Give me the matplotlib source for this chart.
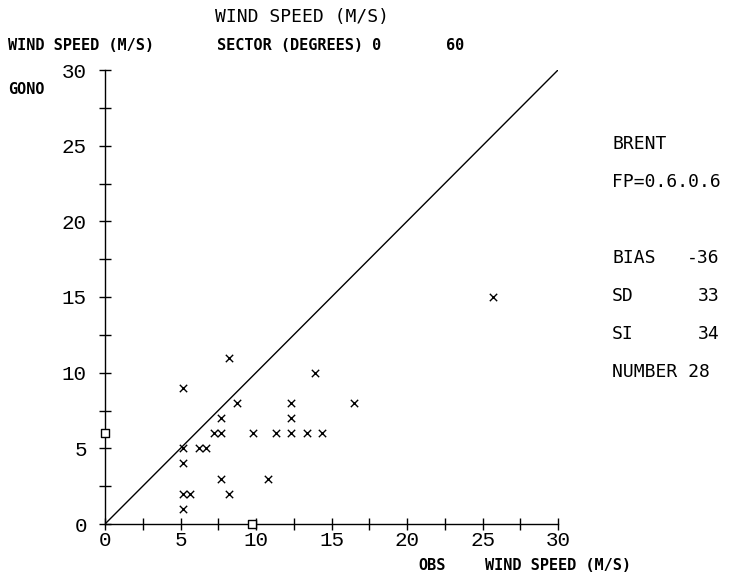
import matplotlib.pyplot as plt
import numpy as np

# observed vs model wind speed, sector 0-60 deg
obs = [5.14, 8.75, 12.35, 13.9, 16.5, 7.7, 12.35, 7.2, 7.7, 9.8, 11.3, 12.35, 13.4,
       14.4, 5.14, 6.2, 6.7, 5.14, 7.7, 10.8, 5.14, 5.66, 8.23, 5.14, 25.7, 8.23]
gono = [9, 8, 8, 10, 8, 7, 7, 6, 6, 6, 6, 6, 6,
        6, 5, 5, 5, 4, 3, 3, 2, 2, 2, 1, 15, 11]
stats = [("BIAS", "-36"), ("SD", "33"), ("SI", "34")]
number = "NUMBER 28"

W, H = 742, 581
mono = "DejaVu Sans Mono"
thin = "Liberation Mono"

def fx(x):
    return x / W

def fy(y):
    return 1 - y / H

fig = plt.figure(figsize=(W / 100, H / 100), dpi=100)
ax = fig.add_axes([fx(105), fy(524), 453 / W, 454 / H])

ax.plot([0, 30], [0, 30], color="black", lw=1)
ax.scatter(obs, gono, marker="x", s=28, color="black", linewidths=1, clip_on=False, zorder=3)
# mean markers on the axes
ax.scatter([np.mean(obs)], [0], marker="s", s=36, facecolor="white", edgecolor="black",
           linewidths=1, clip_on=False, zorder=4)
ax.scatter([0], [np.mean(gono)], marker="s", s=36, facecolor="white", edgecolor="black",
           linewidths=1, clip_on=False, zorder=4)

ax.set_xlim(0, 30)
ax.set_ylim(0, 30)
ax.spines["top"].set_visible(False)
ax.spines["right"].set_visible(False)
for s in ["left", "bottom"]:
    ax.spines[s].set_linewidth(1)
ax.set_xticks(np.arange(0, 31, 5))
ax.set_yticks(np.arange(0, 31, 5))
ax.set_xticks(np.arange(2.5, 30, 5), minor=True)
ax.set_yticks(np.arange(2.5, 30, 5), minor=True)
ax.tick_params(which="both", direction="inout", length=8, width=1)
ax.tick_params(axis="y", pad=9)
ax.tick_params(axis="x", pad=1)
for lab in ax.get_xticklabels() + ax.get_yticklabels():
    lab.set_fontfamily(thin)
    lab.set_fontsize(15)

small = dict(family=mono, fontsize=11, fontweight="bold", ha="left", va="center")
big = dict(family=mono, fontsize=13, ha="left", va="center")

fig.text(fx(302), fy(17), "WIND SPEED (M/S)", family=mono, fontsize=13,
         ha="center", va="center")
fig.text(fx(8), fy(46), "WIND SPEED (M/S)", **small)
fig.text(fx(217), fy(45), "SECTOR (DEGREES) 0", **small)
fig.text(fx(446), fy(45), "60", **small)
fig.text(fx(8), fy(90), "GONO", **small)
fig.text(fx(418), fy(566), "OBS", **small)
fig.text(fx(485), fy(566), "WIND SPEED (M/S)", **small)

fig.text(fx(612), fy(144), "BRENT", **big)
fig.text(fx(612), fy(182), "FP=0.6.0.6", **big)
for i, (name, val) in enumerate(stats):
    y = 258 + 38 * i
    fig.text(fx(612), fy(y), name, **big)
    fig.text(fx(720), fy(y), val, family=mono, fontsize=13, ha="right", va="center")
fig.text(fx(612), fy(372), number, **big)

fig.savefig("out.png", dpi=100)
